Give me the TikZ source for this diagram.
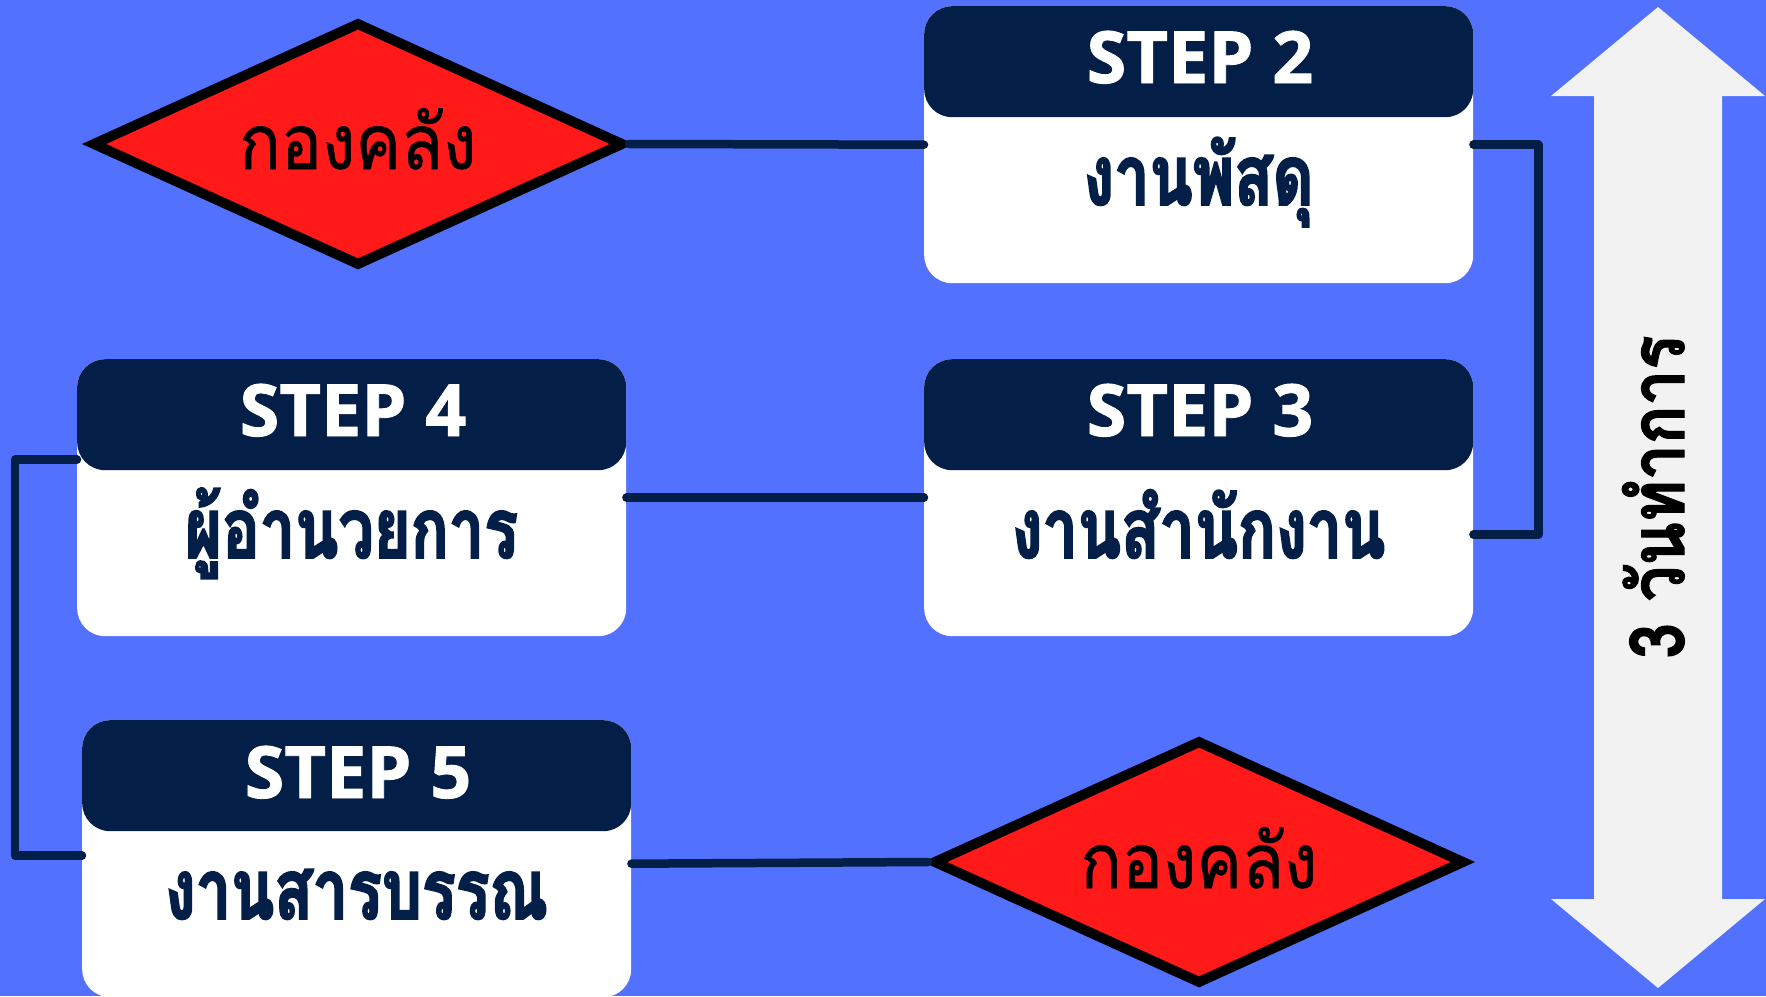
\documentclass[tikz,border=0pt]{standalone}
\usepackage{fontspec}
\usetikzlibrary{shapes.geometric}
\newfontfamily\thaifont[Script=Thai,FakeStretch=0.9,FakeBold=0.8]{Loma}
\newfontfamily\thaicond[Script=Thai,FakeStretch=0.75,BoldFeatures={FakeBold=2.2}]{Loma}
\newfontfamily\thairot[Script=Thai,FakeStretch=0.84,BoldFeatures={FakeBold=1.5}]{Loma}
\newfontfamily\stepfont[BoldFeatures={FakeBold=1.2}]{Open Sans}
\definecolor{bgblue}{HTML}{5271FF}
\definecolor{navy}{HTML}{031F48}
\definecolor{redfill}{HTML}{FF1919}
\definecolor{arrowgrey}{HTML}{F1F2F1}
\begin{document}
\begin{tikzpicture}[x=1pt,y=-1pt,
 card/.style={fill=white, rounded corners=28pt, minimum width=549pt, minimum height=277pt, inner sep=0pt, anchor=north west},
 head/.style={fill=navy, rounded corners=28pt, minimum width=549pt, minimum height=111pt, inner sep=0pt, anchor=north},
 steplabel/.style={text=white, font=\stepfont\bfseries\fontsize{72}{72}\selectfont, anchor=base, inner sep=0pt},
 thailabel/.style={text=navy, font=\thaicond\bfseries\fontsize{84}{84}\selectfont, anchor=base, inner sep=0pt},
 decision/.style={shape=diamond, draw=black, line width=10pt, fill=redfill, minimum width=532pt, minimum height=244pt, inner sep=0pt},
 decisionlabel/.style={text=black, font=\thaifont\fontsize{76}{76}\selectfont, anchor=base, inner sep=0pt},
 rotlabel/.style={text=black, font=\thairot\bfseries\fontsize{76}{76}\selectfont, anchor=base, inner sep=0pt, rotate=90},
 link/.style={draw=navy, line width=8.5pt, line cap=round, line join=round}
]
\useasboundingbox (0,0) rectangle (1766,996);
\fill[bgblue] (0,0) rectangle (1766,996);

% double arrow
\fill[arrowgrey] (1658,7) -- (1765,96) -- (1722,96) -- (1722,899) -- (1765,899) -- (1658,988)
  -- (1551,899) -- (1594,899) -- (1594,96) -- (1551,96) -- cycle;
\node[rotlabel] (days) at (1684,497) {3 วันทำการ};

% decisions
\node[decision] (d1) at (358,144) {};
\node[decisionlabel] (d1t) at (358,169) {กองคลัง};
\node[decision] (d2) at (1199,862) {};
\node[decisionlabel] (d2t) at (1199,888) {กองคลัง};

% cards
\node[card] (s2) at (924,6) {};
\node[head] (h2) at (s2.north) {};
\node[steplabel] (t2) at (1200,83) {STEP 2};
\node[thailabel] (l2) at (1198.5,205) {งานพัสดุ};

\node[card] (s3) at (924,359) {};
\node[head] (h3) at (s3.north) {};
\node[steplabel] (t3) at (1200,436) {STEP 3};
\node[thailabel] (l3) at (1198.5,558) {งานสำนักงาน};

\node[card] (s4) at (77,359) {};
\node[head] (h4) at (s4.north) {};
\node[steplabel] (t4) at (353,436) {STEP 4};
\node[thailabel] (l4) at (351.5,558) {ผู้อำนวยการ};

\node[card] (s5) at (82,720) {};
\node[head] (h5) at (s5.north) {};
\node[steplabel] (t5) at (358,798) {STEP 5};
\node[thailabel] (l5) at (356.5,919) {งานสารบรรณ};

% connectors
\draw[link] (d1.east) -- (s2.west);
\draw[link] (s2.east) -- ++(65,0) |- ([yshift=-37pt]s3.east);
\draw[link] (s3.west) -- (s4.east);
\draw[link] ([yshift=38pt]s4.west) -- ++(-62,0) |- ([yshift=3pt]s5.west);
\draw[link] ([yshift=-5pt]s5.east) -- (d2.west);
\end{tikzpicture}
\end{document}
